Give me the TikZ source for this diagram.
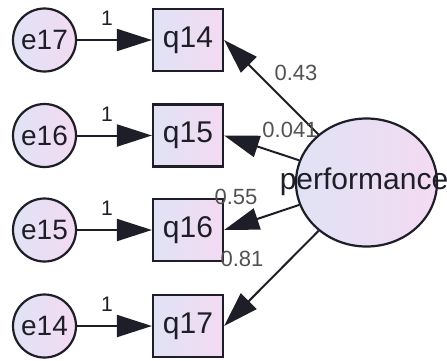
\documentclass[tikz,border=0pt]{standalone}
\usepackage{fontspec}
\setmainfont{Liberation Sans}
\usetikzlibrary{arrows.meta,shapes.geometric}
\definecolor{lcol}{RGB}{224,227,244}
\definecolor{rcol}{RGB}{243,218,243}
\definecolor{ink}{RGB}{30,30,40}
\begin{document}
\begin{tikzpicture}[x=1pt,y=-1pt,
  obs/.style={draw=ink, line width=2.2pt, left color=lcol, right color=rcol,
    minimum width=70pt, minimum height=62pt, inner sep=0pt,
    font=\fontsize{30}{30}\selectfont, text=ink},
  err/.style={circle, draw=ink, line width=2.2pt, left color=lcol, right color=rcol,
    minimum size=63pt, inner sep=0pt, font=\fontsize{28}{28}\selectfont, text=ink},
  reg/.style={draw=ink, line width=2pt, -{Triangle[length=35pt,width=22pt]}},
  wt/.style={font=\fontsize{22}{22}\selectfont, text=black!68, inner sep=0pt},
  one/.style={font=\fontsize{21}{21}\selectfont, text=ink, inner sep=0pt}
]
\useasboundingbox (0,0) rectangle (447,360);
% error terms
\node[err] (e17) at (44.5,40) {e17};
\node[err] (e16) at (44.5,135.5) {e16};
\node[err] (e15) at (44.5,230) {e15};
\node[err] (e14) at (44.5,326) {e14};
% observed
\node[obs] (q14) at (188,40) {q14};
\node[obs] (q15) at (188,135.5) {q15};
\node[obs] (q16) at (188,230) {q16};
\node[obs] (q17) at (188,326) {q17};
% latent
\node[ellipse, draw=ink, line width=2.2pt, left color=lcol, right color=rcol,
  minimum width=141pt, minimum height=128pt, inner sep=0pt] (perf) at (366.5,182.5) {};
\node[font=\fontsize{30}{30}\selectfont, text=ink, inner sep=0pt] (perftext) at (364,181.5) {performance};
% error paths
\draw[reg] (e17) -- (q14);
\draw[reg] (e16) -- (q15);
\draw[reg] (e15) -- (q16);
\draw[reg] (e14) -- (q17);
\node[one] (w1) at (107,18) {1};
\node[one] (w2) at (107,114) {1};
\node[one] (w3) at (107,208) {1};
\node[one] (w4) at (107,304) {1};
% loadings
\draw[reg] (perf) -- (q14.east);
\draw[reg] (perf) -- (q15.east);
\draw[reg] (perf) -- (q16.east);
\draw[reg] (perf) -- (q17.east);
\node[wt] (l1) at (296,73) {0.43};
\node[wt] (l2) at (290,130) {0.041};
\node[wt] (l3) at (236,197) {0.55};
\node[wt] (l4) at (242,259) {0.81};
\end{tikzpicture}
\end{document}
